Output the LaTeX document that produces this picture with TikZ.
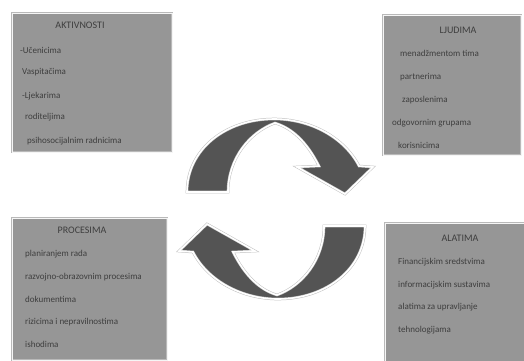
\documentclass[tikz,border=0pt]{standalone}
\usepackage{fontspec}
\setmainfont{Carlito}
\definecolor{boxgray}{RGB}{150,150,150}
\definecolor{arrowgray}{RGB}{84,84,84}
\definecolor{textgray}{RGB}{62,62,62}
\tikzset{
  panel/.style={fill=boxgray, draw=gray!55, double=white!92!gray, double distance=1.4pt, line width=0.5pt, anchor=north west, inner sep=0pt},
  paneltitle/.style={text=textgray, font=\fontsize{10}{11}\selectfont},
  paneltext/.style={text=textgray, font=\fontsize{9}{10}\selectfont, anchor=west, inner sep=0pt},
  cyclearrow/.style={fill=arrowgray, draw=gray!50, double=white, double distance=1.6pt, line width=0.5pt, line join=miter}
}
\begin{document}
\begin{tikzpicture}[x=1pt,y=-1pt]
  \useasboundingbox (0,0) rectangle (524,360);
  % panels
  \node[panel, minimum width=160pt, minimum height=139pt] (akt) at (12,13) {};
  \node[panel, minimum width=138pt, minimum height=140pt] (ljud) at (383,15) {};
  \node[panel, minimum width=155pt, minimum height=142pt] (proc) at (12,218) {};
  \node[panel, minimum width=142pt, minimum height=140pt] (alat) at (385,223) {};
  % titles
  \node[paneltitle] (akttitle) at (80,25) {AKTIVNOSTI};
  \node[paneltitle] (ljudtitle) at (458,30) {LJUDIMA};
  \node[paneltitle] (proctitle) at (82,230) {PROCESIMA};
  \node[paneltitle] (alattitle) at (460,238) {ALATIMA};
  % items
  \node[paneltext] (akt1) at (20,50) {-Učenicima};
  \node[paneltext] (akt2) at (22,72) {Vaspitačima};
  \node[paneltext] (akt3) at (22,96) {-Ljekarima};
  \node[paneltext] (akt4) at (25,117) {roditeljima};
  \node[paneltext] (akt5) at (27,141) {psihosocijalnim radnicima};
  \node[paneltext] (ljud1) at (400,53) {menadžmentom tima};
  \node[paneltext] (ljud2) at (400,77) {partnerima};
  \node[paneltext] (ljud3) at (402,100) {zaposlenima};
  \node[paneltext] (ljud4) at (392,123) {odgovornim grupama};
  \node[paneltext] (ljud5) at (398,145) {korisnicima};
  \node[paneltext] (proc1) at (25,254) {planiranjem rada};
  \node[paneltext] (proc2) at (25,277) {razvojno-obrazovnim procesima};
  \node[paneltext] (proc3) at (25,299) {dokumentima};
  \node[paneltext] (proc4) at (25,322) {rizicima i nepravilnostima};
  \node[paneltext] (proc5) at (25,344) {ishodima};
  \node[paneltext] (alat1) at (398,262) {Financijskim sredstvima};
  \node[paneltext] (alat2) at (398,285) {informacijskim sustavima};
  \node[paneltext] (alat3) at (398,307) {alatima za upravljanje};
  \node[paneltext] (alat4) at (398,330) {tehnologijama};
  % cycle arrows
  \foreach \turn in {0,180} {
    \begin{scope}[rotate around={\turn:(276,209)}]
      \draw[cyclearrow] (187,192) .. controls (187,150) and (225,119) .. (274,119)
        .. controls (310,119) and (344,137) .. (359,166) -- (373,167) -- (345,194)
        -- (297,167) -- (319,166) .. controls (307,142) and (292,128) .. (275,123)
        .. controls (250,132) and (228,158) .. (228,192) -- cycle;
    \end{scope}
  }
\end{tikzpicture}
\end{document}
